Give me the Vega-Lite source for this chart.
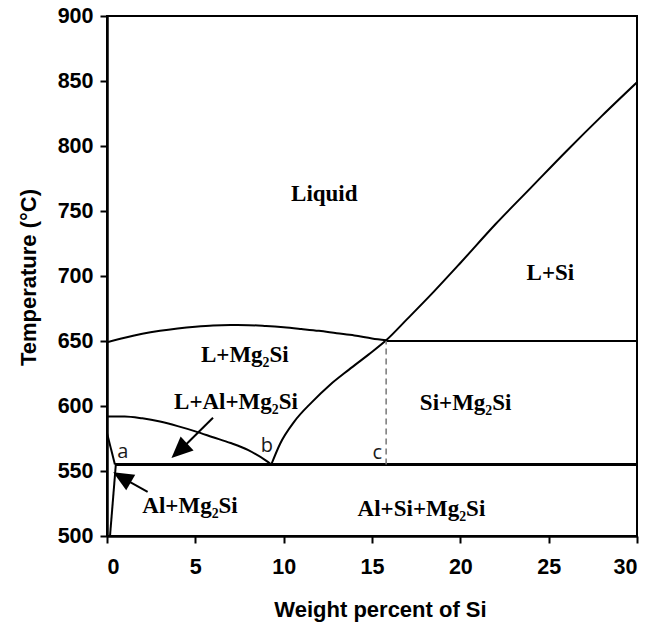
{
  "$schema": "https://vega.github.io/schema/vega-lite/v6.json",
  "width": 530,
  "height": 520,
  "autosize": "none",
  "padding": {"left": 107, "top": 16, "right": 15, "bottom": 89},
  "background": "white",
  "config": {
    "view": {"stroke": "black", "strokeWidth": 2},
    "axis": {
      "grid": false,
      "domainColor": "black",
      "domainWidth": 2.5,
      "tickColor": "black",
      "tickWidth": 2,
      "tickSize": 7,
      "labelFont": "Liberation Sans",
      "labelFontWeight": "bold",
      "labelFontSize": 21.5,
      "labelColor": "black",
      "titleFont": "Liberation Sans",
      "titleFontWeight": "bold",
      "titleFontSize": 22,
      "titleColor": "black"
    }
  },
  "datasets": {
    "curves": [
      {"s": "upper", "o": 0, "x": 0, "y": 649},
      {"s": "upper", "o": 1, "x": 1, "y": 652.5},
      {"s": "upper", "o": 2, "x": 2, "y": 655.5},
      {"s": "upper", "o": 3, "x": 3, "y": 657.8},
      {"s": "upper", "o": 4, "x": 4, "y": 659.6},
      {"s": "upper", "o": 5, "x": 5, "y": 661},
      {"s": "upper", "o": 6, "x": 6, "y": 662},
      {"s": "upper", "o": 7, "x": 7, "y": 662.3},
      {"s": "upper", "o": 8, "x": 8, "y": 662.2},
      {"s": "upper", "o": 9, "x": 9, "y": 661.5},
      {"s": "upper", "o": 10, "x": 10, "y": 660.5},
      {"s": "upper", "o": 11, "x": 11, "y": 659.2},
      {"s": "upper", "o": 12, "x": 12, "y": 657.8},
      {"s": "upper", "o": 13, "x": 13, "y": 656},
      {"s": "upper", "o": 14, "x": 14, "y": 654.3},
      {"s": "upper", "o": 15, "x": 15, "y": 652},
      {"s": "upper", "o": 16, "x": 15.8, "y": 650.5},
      {"s": "si", "o": 0, "x": 9.3, "y": 555},
      {"s": "si", "o": 1, "x": 9.8, "y": 571},
      {"s": "si", "o": 2, "x": 10.6, "y": 588},
      {"s": "si", "o": 3, "x": 11.6, "y": 603},
      {"s": "si", "o": 4, "x": 12.6, "y": 616},
      {"s": "si", "o": 5, "x": 13.7, "y": 628},
      {"s": "si", "o": 6, "x": 14.8, "y": 639.5},
      {"s": "si", "o": 7, "x": 15.8, "y": 650.5},
      {"s": "si", "o": 8, "x": 17, "y": 667},
      {"s": "si", "o": 9, "x": 18.5, "y": 688},
      {"s": "si", "o": 10, "x": 20, "y": 710},
      {"s": "si", "o": 11, "x": 22, "y": 740},
      {"s": "si", "o": 12, "x": 24, "y": 768},
      {"s": "si", "o": 13, "x": 26, "y": 796},
      {"s": "si", "o": 14, "x": 28, "y": 823},
      {"s": "si", "o": 15, "x": 30, "y": 849},
      {"s": "lower", "o": 0, "x": 0, "y": 592},
      {"s": "lower", "o": 1, "x": 1, "y": 592},
      {"s": "lower", "o": 2, "x": 2, "y": 590.5},
      {"s": "lower", "o": 3, "x": 3, "y": 588},
      {"s": "lower", "o": 4, "x": 4, "y": 584.5},
      {"s": "lower", "o": 5, "x": 5, "y": 580.5},
      {"s": "lower", "o": 6, "x": 6, "y": 576},
      {"s": "lower", "o": 7, "x": 7, "y": 571.5},
      {"s": "lower", "o": 8, "x": 8, "y": 566},
      {"s": "lower", "o": 9, "x": 9, "y": 558},
      {"s": "lower", "o": 10, "x": 9.3, "y": 555},
      {"s": "solidus", "o": 0, "x": 0, "y": 579},
      {"s": "solidus", "o": 1, "x": 0.45, "y": 555},
      {"s": "solvus", "o": 0, "x": 0.5, "y": 555},
      {"s": "solvus", "o": 1, "x": 0.17, "y": 500},
      {"s": "h650", "o": 0, "x": 15.8, "y": 650},
      {"s": "h650", "o": 1, "x": 30, "y": 650}
    ],
    "eutectic": [
      {"x": 0.45, "y": 555},
      {"x": 30, "y": 555}
    ],
    "dashed": [
      {"x": 15.8, "y": 555},
      {"x": 15.8, "y": 650}
    ],
    "shafts": [
      {"x": 6.0, "y": 591, "x2": 4.0, "y2": 564},
      {"x": 2.3, "y": 534, "x2": 0.7, "y2": 546}
    ],
    "head1": [{"x": 3.65, "y": 560}],
    "head2": [{"x": 0.35, "y": 549}],
    "phases": [
      {"x": 12.3, "y": 763, "t": "Liquid"},
      {"x": 25.1, "y": 702, "t": "L+Si"},
      {"x": 7.8, "y": 639, "t": "L+Mg₂Si"},
      {"x": 7.3, "y": 603, "t": "L+Al+Mg₂Si"},
      {"x": 20.3, "y": 602, "t": "Si+Mg₂Si"},
      {"x": 17.8, "y": 521, "t": "Al+Si+Mg₂Si"},
      {"x": 4.7, "y": 523, "t": "Al+Mg₂Si"}
    ],
    "points": [
      {"x": 0.9, "y": 565, "t": "a"},
      {"x": 9.05, "y": 569, "t": "b"},
      {"x": 15.3, "y": 564, "t": "c"}
    ]
  },
  "layer": [
    {
      "data": {"name": "curves"},
      "mark": {"type": "line", "color": "black", "strokeWidth": 2, "clip": true, "interpolate": "monotone"},
      "encoding": {
        "x": {
          "field": "x", "type": "quantitative",
          "scale": {"domain": [0, 30], "nice": false},
          "axis": {
            "values": [0, 5, 10, 15, 20, 25, 30],
            "labelPadding": 13,
            "title": "Weight percent of Si",
            "titleX": 273,
            "titleY": 80,
            "titleBaseline": "alphabetic",
            "titleAlign": "center"
          }
        },
        "y": {
          "field": "y", "type": "quantitative",
          "scale": {"domain": [500, 900], "nice": false, "zero": false},
          "axis": {
            "values": [500, 550, 600, 650, 700, 750, 800, 850, 900],
            "labelPadding": 7,
            "title": "Temperature (°C)",
            "titleAngle": -90,
            "titleX": -72,
            "titleY": 261,
            "titleBaseline": "alphabetic",
            "titleAlign": "center"
          }
        },
        "detail": {"field": "s"},
        "order": {"field": "o", "type": "quantitative"}
      }
    },
    {
      "data": {"name": "eutectic"},
      "mark": {"type": "line", "color": "black", "strokeWidth": 3},
      "encoding": {
        "x": {"field": "x", "type": "quantitative"},
        "y": {"field": "y", "type": "quantitative"}
      }
    },
    {
      "data": {"name": "dashed"},
      "mark": {"type": "line", "color": "#777777", "strokeWidth": 1.5, "strokeDash": [6, 4]},
      "encoding": {
        "x": {"field": "x", "type": "quantitative"},
        "y": {"field": "y", "type": "quantitative"}
      }
    },
    {
      "data": {"name": "shafts"},
      "mark": {"type": "rule", "color": "black", "strokeWidth": 2},
      "encoding": {
        "x": {"field": "x", "type": "quantitative"},
        "y": {"field": "y", "type": "quantitative"},
        "x2": {"field": "x2"},
        "y2": {"field": "y2"}
      }
    },
    {
      "data": {"name": "head1"},
      "mark": {"type": "point", "shape": "M0,0L-0.6,1.35L0.6,1.35Z", "filled": true, "color": "black", "opacity": 1, "size": 1000, "angle": 227},
      "encoding": {
        "x": {"field": "x", "type": "quantitative"},
        "y": {"field": "y", "type": "quantitative"}
      }
    },
    {
      "data": {"name": "head2"},
      "mark": {"type": "point", "shape": "M0,0L-0.6,1.35L0.6,1.35Z", "filled": true, "color": "black", "opacity": 1, "size": 900, "angle": 300},
      "encoding": {
        "x": {"field": "x", "type": "quantitative"},
        "y": {"field": "y", "type": "quantitative"}
      }
    },
    {
      "data": {"name": "phases"},
      "mark": {"type": "text", "font": "Liberation Serif", "fontWeight": "bold", "fontSize": 23, "color": "black", "align": "center", "baseline": "middle"},
      "encoding": {
        "x": {"field": "x", "type": "quantitative"},
        "y": {"field": "y", "type": "quantitative"},
        "text": {"field": "t"}
      }
    },
    {
      "data": {"name": "points"},
      "mark": {"type": "text", "font": "Open Sans", "fontSize": 20, "color": "#1a1a1a", "align": "center", "baseline": "middle"},
      "encoding": {
        "x": {"field": "x", "type": "quantitative"},
        "y": {"field": "y", "type": "quantitative"},
        "text": {"field": "t"}
      }
    }
  ]
}
